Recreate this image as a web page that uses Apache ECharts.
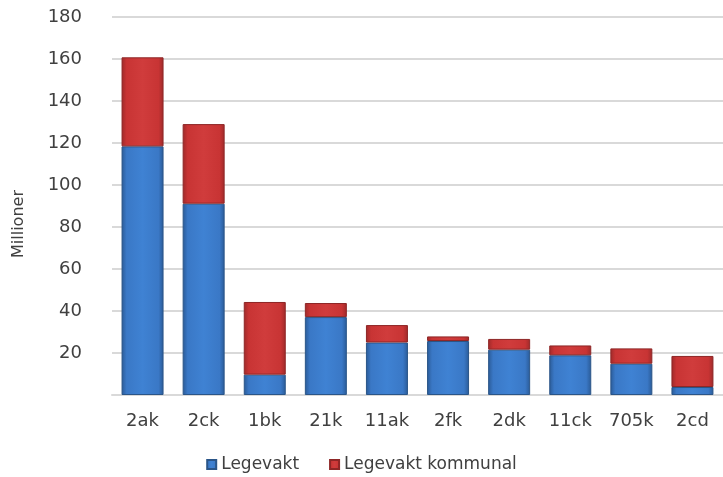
<!DOCTYPE html>
<html><head><meta charset="utf-8">
<script src="https://cdn.jsdelivr.net/npm/echarts@6/dist/echarts.min.js"></script>
<style>html,body{margin:0;padding:0;background:#fff}#c{width:723px;height:477px}</style>
</head><body><div id="c"></div>
<script>
const categories = ['2ak','2ck','1bk','21k','11ak','2fk','2dk','11ck','705k','2cd'];
const legevakt = [118.4, 91.1, 9.7, 37.1, 25.0, 25.7, 21.6, 18.9, 14.9, 3.8];
const legevaktKommunal = [42.4, 37.9, 34.6, 6.7, 8.3, 2.2, 5.1, 4.7, 7.3, 14.8];
const yTicks = {min: 0, max: 180, interval: 20};

const FONT = 'DejaVu Sans';
function grad(edge, mid, light){
  return new echarts.graphic.LinearGradient(0,0,1,0,[
    {offset:0,color:edge},{offset:0.12,color:mid},{offset:0.5,color:light},{offset:0.88,color:mid},{offset:1,color:edge}
  ]);
}
const blue = grad('#2a5a96','#3a78c6','#3f82d3');
const red = grad('#9e2a2a','#c83434','#d03c3c');
const chart = echarts.init(document.getElementById('c'));
chart.setOption({
  animation:false,
  grid:{left:112, top:17, width:613, bottom:82},
  legend:{
    data:['Legevakt','Legevakt kommunal'],
    top:451, left:'center', itemWidth:9, itemHeight:9, itemGap:30,
    icon:'rect',
    textStyle:{fontFamily:FONT, fontSize:17, color:'#404040'}
  },
  xAxis:{
    type:'category', data:categories,
    axisLine:{lineStyle:{color:'#d9d9d9', width:2}},
    axisTick:{show:false},
    axisLabel:{fontFamily:FONT, fontSize:18, color:'#404040', margin:17}
  },
  yAxis:{
    type:'value', min:yTicks.min, max:yTicks.max, interval:yTicks.interval,
    name:'Millioner', nameLocation:'middle', nameGap:85, nameRotate:90,
    nameTextStyle:{fontFamily:FONT, fontSize:16, color:'#404040', padding:[0,36,0,0]},
    axisLine:{show:false}, axisTick:{show:false},
    axisLabel:{fontFamily:FONT, fontSize:18, color:'#404040', margin:30,
      formatter:v=> v===0 ? '' : String(v)},
    splitLine:{lineStyle:{color:'#d9d9d9', width:2}}
  },
  series:[
    {name:'Legevakt', type:'bar', stack:'a', data:legevakt, barWidth:42,
     itemStyle:{color:blue, borderColor:'#2a5588', borderWidth:1}},
    {name:'Legevakt kommunal', type:'bar', stack:'a', data:legevaktKommunal, barWidth:42,
     itemStyle:{color:red, borderColor:'#8e2626', borderWidth:1}}
  ]
});
</script></body></html>
